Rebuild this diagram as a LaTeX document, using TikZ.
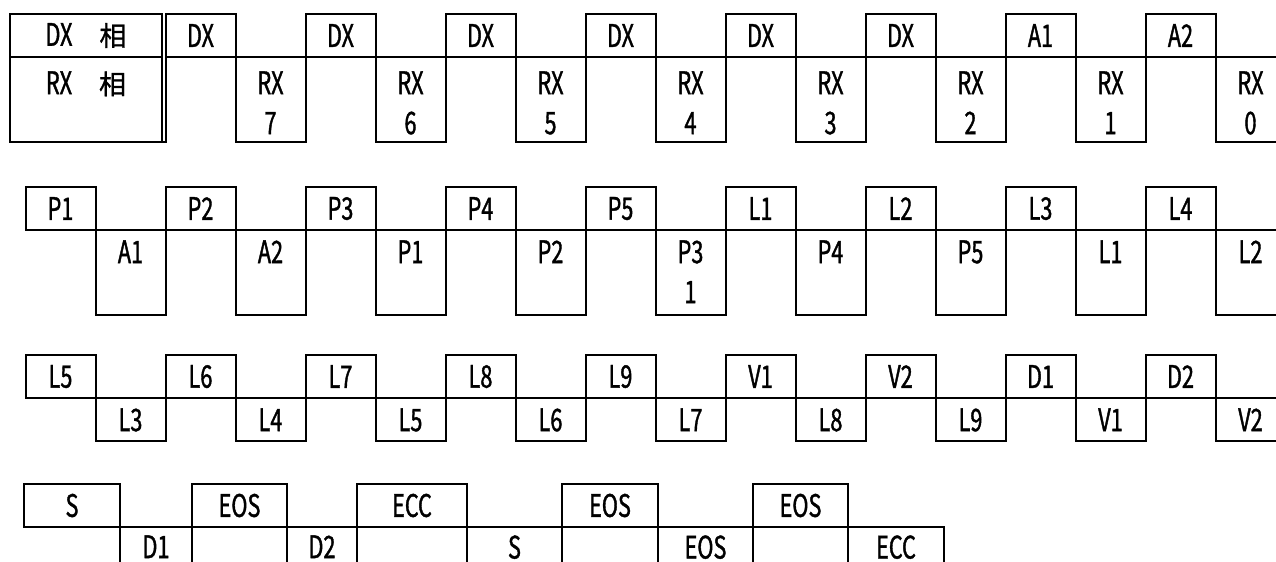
\documentclass[tikz,border=0pt]{standalone}
\usepackage{fontspec}
\newfontfamily\gothic[FakeStretch=0.7, FakeBold=1.2]{Noto Sans CJK JP}
\newfontfamily\kanji[FakeBold=1.2]{Noto Sans CJK JP}
\newcommand\kj[1]{{\kanji\fontsize{13.5}{20}\selectfont #1}}
\usetikzlibrary{positioning}

\begin{document}
\begin{tikzpicture}[x=0.5pt, y=-0.5pt,
  frame/.style={line width=1pt},
  lbl/.style={font=\gothic\fontsize{15.5}{20}\selectfont, inner sep=0pt},
  low/.style={lbl, anchor=north, align=center}
]
\useasboundingbox (0,0) rectangle (1276,562);
\clip (0,0) rectangle (1276,562);
% 第一行：表头（双线分隔）
\draw[frame] (10,14) rectangle (162,142);
\draw[frame] (10,57) -- (162,57);
\draw[frame] (165.5,57) |- (162,142);
\node[lbl] (dxhead) at (86,35.5) {DX\kj{　相}};
\node[low] (rxhead) at (86,71) {RX\kj{　相}};
% 第一行：DX 相 / RX 相
\foreach \lab [count=\i from 0] in {DX,DX,DX,DX,DX,DX,A1,A2} {
  \draw[frame] (165.5+140*\i,14) rectangle ++(70,43);
  \node[lbl] (dx\i) at (200.5+140*\i,35.5) {\lab};
}
\foreach \lab [count=\i from 0] in {7,6,5,4,3,2,1,0} {
  \draw[frame] (235.5+140*\i,57) rectangle ++(70,85);
  \node[low] (rx\i) at (270.5+140*\i,71) {RX\\\lab};
}
% 第二行
\foreach \lab [count=\i from 0] in {P1,P2,P3,P4,P5,L1,L2,L3,L4} {
  \draw[frame] (25.5+140*\i,187) rectangle ++(70,43);
  \node[lbl] (pt\i) at (60.5+140*\i,208.5) {\lab};
}
\foreach \lab [count=\i from 0] in {A1,A2,P1,P2,{P3\\1},P4,P5,L1,L2} {
  \draw[frame] (95.5+140*\i,230) rectangle ++(70,85);
  \node[low] (pb\i) at (130.5+140*\i,240) {\lab};
}
% 第三行
\foreach \lab [count=\i from 0] in {L5,L6,L7,L8,L9,V1,V2,D1,D2} {
  \draw[frame] (25.5+140*\i,355) rectangle ++(70,43);
  \node[lbl] (lt\i) at (60.5+140*\i,376.5) {\lab};
}
\foreach \lab [count=\i from 0] in {L3,L4,L5,L6,L7,L8,L9,V1,V2} {
  \draw[frame] (95.5+140*\i,398) rectangle ++(70,43);
  \node[low] (lb\i) at (130.5+140*\i,408) {\lab};
}
% 第四行（宽度不等）
\foreach \xa/\xb/\lab [count=\i] in {24/120/S, 192/287/EOS, 357/467/ECC, 562/658/EOS, 753/848/EOS} {
  \draw[frame] (\xa,484) rectangle (\xb,527);
  \node[lbl] (et\i) at ({(\xa+\xb)/2},505.5) {\lab};
}
\foreach \xa/\xb/\lab [count=\i] in {120/192/D1, 287/357/D2, 467/562/S, 658/753/EOS, 848/944/ECC} {
  \draw[frame] (\xa,527) rectangle (\xb,575);
  \node[low] (eb\i) at ({(\xa+\xb)/2},535) {\lab};
}
\end{tikzpicture}
\end{document}
